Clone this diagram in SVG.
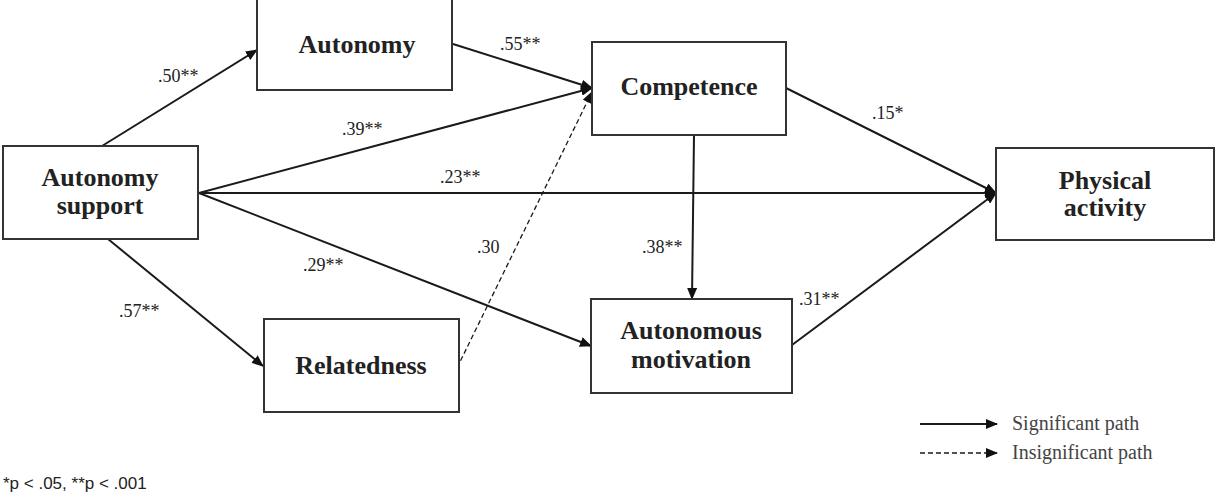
<svg xmlns="http://www.w3.org/2000/svg" width="1218" height="495" viewBox="0 0 1218 495">
<defs>
<marker id="ah" markerUnits="userSpaceOnUse" markerWidth="12" markerHeight="10" refX="11" refY="5" orient="auto">
<path d="M0,0 L12,5 L0,10 z" fill="#111"/>
</marker>
<style>
.box{fill:#fff;stroke:#333;stroke-width:2}
.nt{font-family:"Liberation Serif","Times New Roman",serif;font-weight:bold;font-size:26px;fill:#222;text-anchor:middle}
.lb{font-family:"Liberation Serif","Times New Roman",serif;font-size:18px;fill:#222}
.lg{font-family:"Liberation Serif","Times New Roman",serif;font-size:20px;fill:#444}
.ln{fill:none;stroke:#1a1a1a;stroke-width:2;marker-end:url(#ah)}
.dl{fill:none;stroke:#1a1a1a;stroke-width:1.3;stroke-dasharray:5,3;marker-end:url(#ah)}
</style>
</defs>
<rect width="1218" height="495" fill="#fff"/>
<g id="connectors">
<line class="ln" x1="102" y1="146" x2="257" y2="50"/>
<line class="ln" x1="453" y1="44" x2="592" y2="88"/>
<line class="ln" x1="199" y1="193" x2="592" y2="88"/>
<line class="ln" x1="199" y1="193" x2="996" y2="193"/>
<line class="ln" x1="199" y1="193" x2="591" y2="346"/>
<line class="ln" x1="108" y1="239" x2="263" y2="366"/>
<line class="dl" x1="457" y1="368" x2="592" y2="92"/>
<line class="ln" x1="786" y1="88" x2="996" y2="193"/>
<line class="ln" x1="694" y1="135" x2="692" y2="299"/>
<line class="ln" x1="792" y1="345" x2="996" y2="193"/>
</g>
<g id="labels">
<text class="lb" x="158" y="82">.50**</text>
<text class="lb" x="500" y="50">.55**</text>
<text class="lb" x="342" y="135">.39**</text>
<text class="lb" x="440" y="183">.23**</text>
<text class="lb" x="477" y="253">.30</text>
<text class="lb" x="303" y="271">.29**</text>
<text class="lb" x="119" y="317">.57**</text>
<text class="lb" x="872" y="119">.15*</text>
<text class="lb" x="642" y="253">.38**</text>
<text class="lb" x="799" y="305">.31**</text>
</g>
<g id="autonomy">
<rect class="box" x="257" y="-3" width="195" height="93"/>
<text class="nt" x="357" y="53">Autonomy</text>
</g>
<g id="competence">
<rect class="box" x="592" y="42" width="194" height="93"/>
<text class="nt" x="689" y="95">Competence</text>
</g>
<g id="autonomy-support">
<rect class="box" x="3" y="146" width="195" height="93"/>
<text class="nt" x="100" y="186">Autonomy</text>
<text class="nt" x="100" y="214">support</text>
</g>
<g id="relatedness">
<rect class="box" x="264" y="319" width="195" height="93"/>
<text class="nt" x="361" y="374">Relatedness</text>
</g>
<g id="autonomous-motivation">
<rect class="box" x="591" y="299" width="201" height="94"/>
<text class="nt" x="691" y="339">Autonomous</text>
<text class="nt" x="691" y="368">motivation</text>
</g>
<g id="physical-activity">
<rect class="box" x="996" y="148" width="218" height="92"/>
<text class="nt" x="1105" y="189">Physical</text>
<text class="nt" x="1105" y="216">activity</text>
</g>
<g id="legend">
<line class="ln" x1="920" y1="424" x2="997" y2="424"/>
<line class="dl" x1="920" y1="453" x2="997" y2="453"/>
<text class="lg" x="1012" y="430">Significant path</text>
<text class="lg" x="1012" y="459">Insignificant path</text>
</g>
<text x="3" y="489" font-family="'Liberation Sans',Arial,sans-serif" font-size="17" fill="#222">*p &lt; .05, **p &lt; .001</text>
</svg>
